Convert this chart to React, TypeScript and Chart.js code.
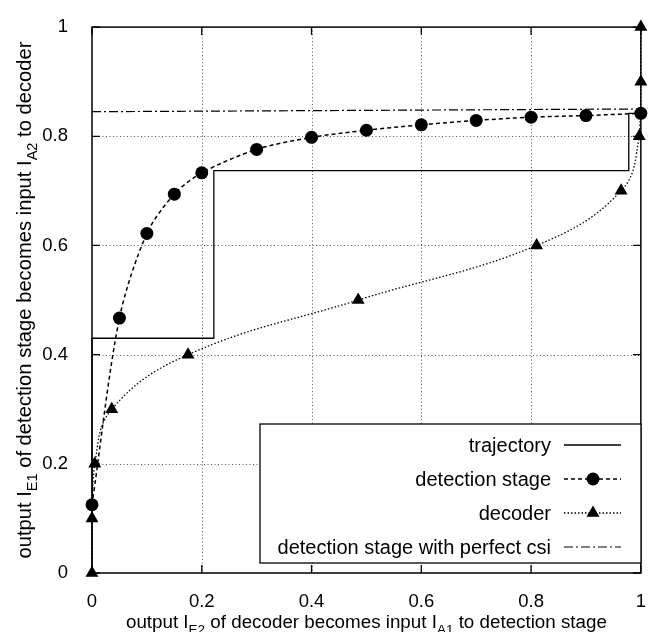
import React, { useEffect, useRef } from 'react';
import { Chart, registerables } from 'chart.js';

Chart.register(...registerables);

const FONT = '"Liberation Sans", Arial, Helvetica, sans-serif';

// ---- data ----
const detectionX = [0, 0.05, 0.1, 0.15, 0.2, 0.3, 0.4, 0.5, 0.6, 0.7, 0.8, 0.9, 1.0];
const detectionY = [0.125, 0.467, 0.622, 0.694, 0.733, 0.776, 0.798, 0.811, 0.821, 0.829, 0.835, 0.838, 0.842];

const decoderX = [0, 0, 0.005, 0.036, 0.175, 0.485, 0.81, 0.964, 0.997, 1, 1];
const decoderY = [0, 0.1, 0.2, 0.3, 0.4, 0.5, 0.6, 0.7, 0.8, 0.9, 1.0];

const trajectoryX = [0, 0, 0.222, 0.222, 0.978, 0.978, 1];
const trajectoryY = [0, 0.43, 0.43, 0.737, 0.737, 0.842, 0.842];

const csiX = [0, 0.2, 0.4, 0.6, 0.8, 1];
const csiY = [0.845, 0.846, 0.847, 0.848, 0.849, 0.85];

const tickValues = [0, 0.2, 0.4, 0.6, 0.8, 1];
const tickLabels = ['0', '0.2', '0.4', '0.6', '0.8', '1'];
const seriesLabels = ['trajectory', 'detection stage', 'decoder', 'detection stage with perfect csi'];

type Part = { text: string; sub?: boolean };
const X_TITLE: Part[] = [
  { text: 'output I' },
  { text: 'E2', sub: true },
  { text: ' of decoder becomes input I' },
  { text: 'A1', sub: true },
  { text: ' to detection stage' },
];
const Y_TITLE: Part[] = [
  { text: 'output I' },
  { text: 'E1', sub: true },
  { text: ' of detection stage becomes input I' },
  { text: 'A2', sub: true },
  { text: ' to decoder' },
];

const toPoints = (xs: number[], ys: number[]) => xs.map((x, i) => ({ x, y: ys[i] }));

function drawRich(ctx: CanvasRenderingContext2D, parts: Part[], cx: number, baseline: number, size: number) {
  const sub = size * 0.72;
  const widths = parts.map((p) => {
    ctx.font = `${p.sub ? sub : size}px ${FONT}`;
    return ctx.measureText(p.text).width;
  });
  const total = widths.reduce((a, b) => a + b, 0);
  let x = cx - total / 2;
  ctx.textAlign = 'left';
  ctx.textBaseline = 'alphabetic';
  parts.forEach((p, i) => {
    ctx.font = `${p.sub ? sub : size}px ${FONT}`;
    ctx.fillText(p.text, x, baseline + (p.sub ? size * 0.3 : 0));
    x += widths[i];
  });
}

function drawMarker(ctx: CanvasRenderingContext2D, style: string, x: number, y: number, r: number) {
  ctx.beginPath();
  if (style === 'circle') {
    ctx.arc(x, y, r, 0, Math.PI * 2);
  } else if (style === 'triangle') {
    ctx.moveTo(x, y - r);
    ctx.lineTo(x + r * Math.sin(Math.PI / 3), y + r / 2);
    ctx.lineTo(x - r * Math.sin(Math.PI / 3), y + r / 2);
    ctx.closePath();
  }
  ctx.fill();
}

const decorPlugin = {
  id: 'decor',
  beforeDatasetsDraw(chart: any) {
    const { ctx, chartArea: a, scales } = chart;
    const xs = scales.x;
    const ys = scales.y;
    ctx.save();
    ctx.strokeStyle = '#555';
    ctx.lineWidth = 1;
    ctx.setLineDash([1, 2.5]);
    tickValues
      .filter((v) => v > 0 && v < 1)
      .forEach((v) => {
        const px = Math.round(xs.getPixelForValue(v)) + 0.5;
        ctx.beginPath();
        ctx.moveTo(px, a.top);
        ctx.lineTo(px, a.bottom);
        ctx.stroke();
        const py = Math.round(ys.getPixelForValue(v)) + 0.5;
        ctx.beginPath();
        ctx.moveTo(a.left, py);
        ctx.lineTo(a.right, py);
        ctx.stroke();
      });
    ctx.setLineDash([]);
    ctx.strokeStyle = '#000';
    ctx.lineWidth = 1.5;
    ctx.strokeRect(a.left, a.top, a.right - a.left, a.bottom - a.top);
    ctx.lineWidth = 1.3;
    const L = 8;
    tickValues.forEach((v) => {
      const px = xs.getPixelForValue(v);
      const py = ys.getPixelForValue(v);
      ctx.beginPath();
      ctx.moveTo(px, a.bottom);
      ctx.lineTo(px, a.bottom - L);
      ctx.moveTo(px, a.top);
      ctx.lineTo(px, a.top + L);
      ctx.moveTo(a.left, py);
      ctx.lineTo(a.left + L, py);
      ctx.moveTo(a.right, py);
      ctx.lineTo(a.right - L, py);
      ctx.stroke();
    });
    ctx.restore();
  },
  afterDraw(chart: any) {
    const { ctx, chartArea: a } = chart;
    ctx.save();
    // legend
    const box = { l: 260, t: 424, r: 641, b: 563 };
    ctx.fillStyle = '#fff';
    ctx.fillRect(box.l, box.t, box.r - box.l, box.b - box.t);
    ctx.strokeStyle = '#000';
    ctx.lineWidth = 1.3;
    ctx.strokeRect(box.l, box.t, box.r - box.l, box.b - box.t);
    const rows = [445, 479, 513, 547];
    chart.data.datasets.forEach((ds: any, i: number) => {
      const yRow = rows[i];
      ctx.fillStyle = '#000';
      ctx.font = `20px ${FONT}`;
      ctx.textAlign = 'right';
      ctx.textBaseline = 'middle';
      ctx.fillText(ds.label, 551, yRow + 1);
      ctx.strokeStyle = '#000';
      ctx.lineWidth = ds.borderWidth;
      ctx.setLineDash(ds.borderDash || []);
      ctx.beginPath();
      ctx.moveTo(564, yRow);
      ctx.lineTo(621, yRow);
      ctx.stroke();
      ctx.setLineDash([]);
      if (ds.pointRadius > 0) drawMarker(ctx, ds.pointStyle, 593, yRow, ds.pointRadius);
    });
    // axis titles
    ctx.fillStyle = '#000';
    drawRich(ctx, X_TITLE, (a.left + a.right) / 2, 628, 18.8);
    ctx.translate(31, (a.top + a.bottom) / 2);
    ctx.rotate(-Math.PI / 2);
    drawRich(ctx, Y_TITLE, 0, 0, 20.2);
    ctx.restore();
  },
};

export default function App() {
  const ref = useRef<HTMLCanvasElement | null>(null);

  useEffect(() => {
    if (!ref.current) return;
    const axisCommon = {
      type: 'linear' as const,
      min: 0,
      max: 1,
      grid: { display: false },
      border: { display: false },
      afterBuildTicks: (s: any) => {
        s.ticks = tickValues.map((v) => ({ value: v }));
      },
    };
    const tickCallback = (v: any) => {
      const i = tickValues.findIndex((t) => Math.abs(t - Number(v)) < 1e-9);
      return i >= 0 ? tickLabels[i] : '';
    };
    const chart = new Chart(ref.current, {
      type: 'scatter',
      data: {
        datasets: [
          {
            label: seriesLabels[0],
            data: toPoints(trajectoryX, trajectoryY),
            showLine: true,
            borderColor: '#000',
            borderWidth: 1.3,
            borderDash: [],
            pointRadius: 0,
            pointStyle: 'circle',
            tension: 0,
            clip: false,
          },
          {
            label: seriesLabels[1],
            data: toPoints(detectionX, detectionY),
            showLine: true,
            borderColor: '#000',
            backgroundColor: '#000',
            borderWidth: 1.5,
            borderDash: [4, 3],
            pointStyle: 'circle',
            pointRadius: 6.5,
            pointBorderWidth: 0,
            tension: 0.3,
            clip: false,
          },
          {
            label: seriesLabels[2],
            data: toPoints(decoderX, decoderY),
            showLine: true,
            borderColor: '#000',
            backgroundColor: '#000',
            borderWidth: 1.3,
            borderDash: [1.5, 2],
            pointStyle: 'triangle',
            pointRadius: 7.5,
            pointBorderWidth: 0,
            tension: 0.4,
            clip: false,
          },
          {
            label: seriesLabels[3],
            data: toPoints(csiX, csiY),
            showLine: true,
            borderColor: '#000',
            borderWidth: 1.2,
            borderDash: [9, 3, 2, 3],
            pointRadius: 0,
            pointStyle: 'circle',
            tension: 0,
            clip: false,
          },
        ],
      },
      options: {
        responsive: false,
        animation: false,
        devicePixelRatio: 1,
        layout: { padding: { top: 18, right: 11, left: 0, bottom: 0 } },
        plugins: { legend: { display: false }, tooltip: { enabled: false } },
        scales: {
          x: {
            ...axisCommon,
            position: 'bottom',
            ticks: { font: { family: FONT, size: 18.5 }, color: '#000', padding: 10, maxRotation: 0, callback: tickCallback },
            afterFit: (s: any) => {
              s.height = 59;
            },
          },
          y: {
            ...axisCommon,
            position: 'left',
            ticks: { font: { family: FONT, size: 18.5 }, color: '#000', padding: 16, callback: tickCallback },
            afterFit: (s: any) => {
              s.width = 92;
            },
          },
        },
      },
      plugins: [decorPlugin],
    } as any);
    return () => chart.destroy();
  }, []);

  return (
    <div style={{ position: 'fixed', left: 0, top: 0, width: 656, height: 632, background: '#fff', overflow: 'hidden' }}>
      <canvas ref={ref} width={656} height={632} style={{ display: 'block' }} />
    </div>
  );
}
